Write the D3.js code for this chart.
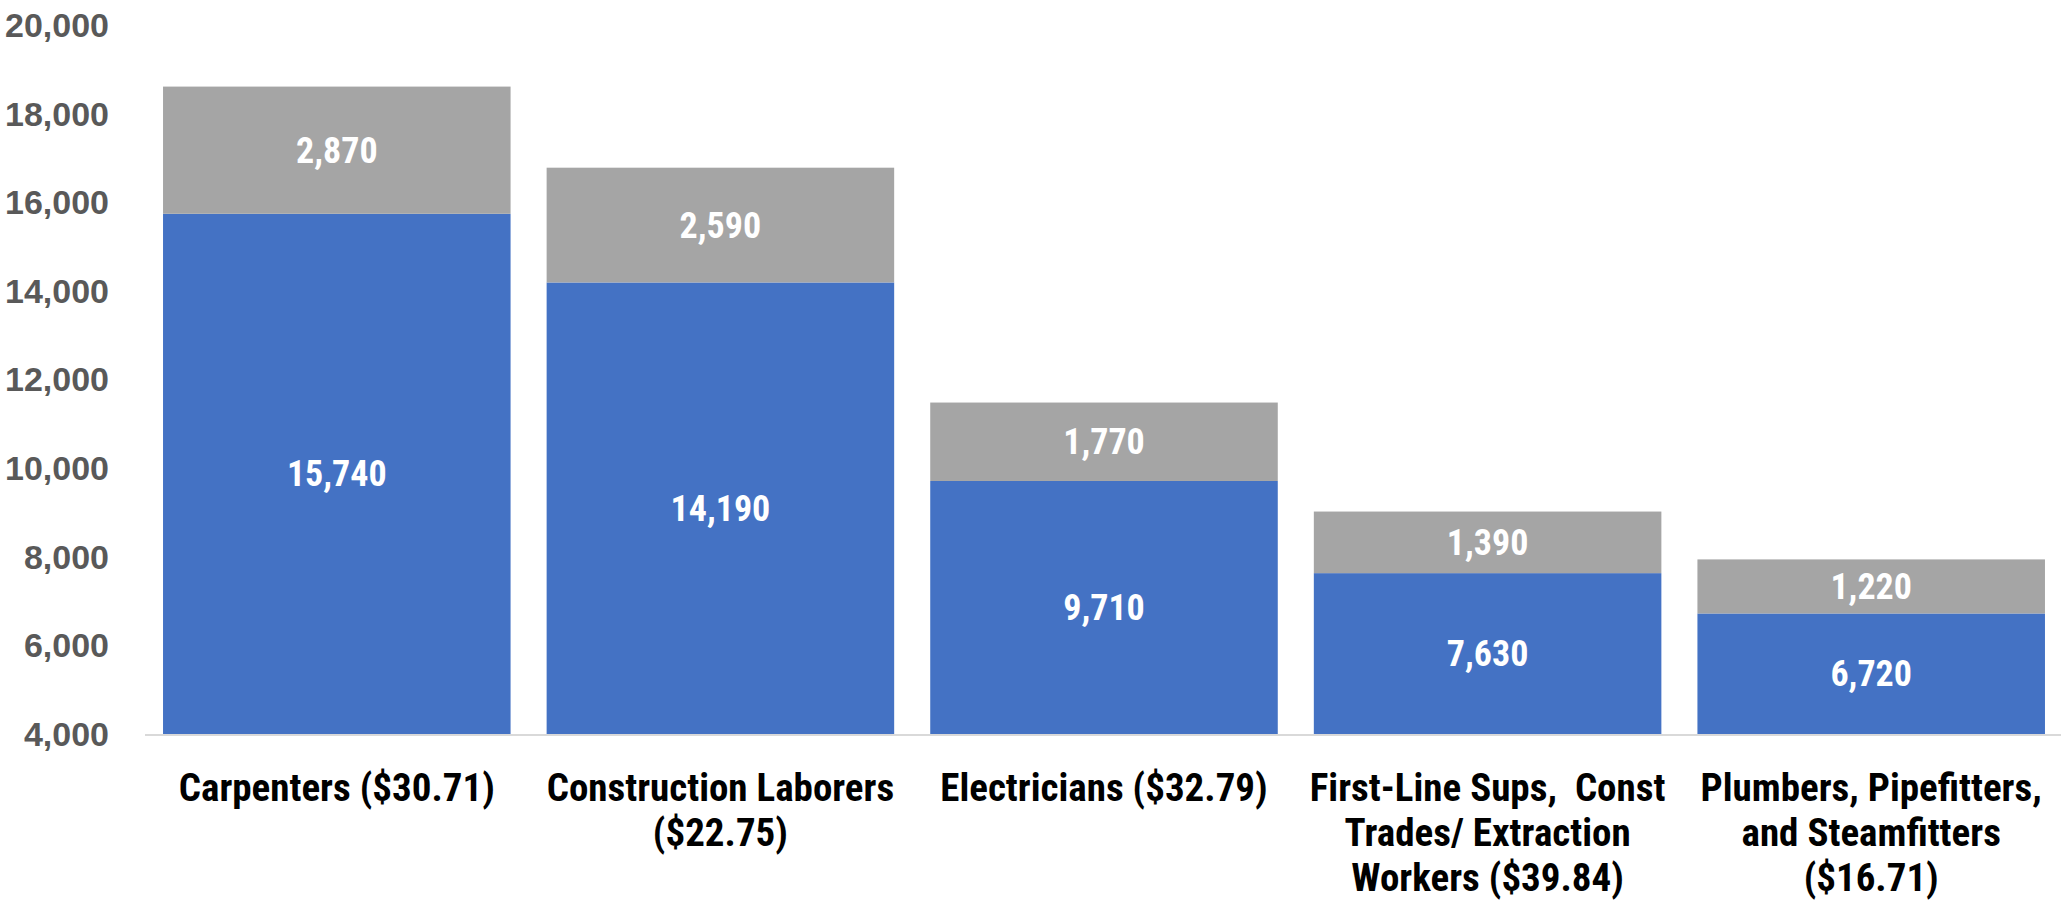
<!DOCTYPE html>
<html>
<head>
<meta charset="utf-8">
<script src="https://cdn.jsdelivr.net/npm/d3@7"></script>
<style>
  html, body { margin: 0; padding: 0; background: #fff; }
  svg { display: block; }
</style>
</head>
<body>
<svg id="chart"></svg>
<script>
// ---- Data ----
const categories = [
  'Carpenters ($30.71)',
  'Construction Laborers ($22.75)',
  'Electricians ($32.79)',
  'First-Line Sups, Const Trades/ Extraction Workers ($39.84)',
  'Plumbers, Pipefitters, and Steamfitters ($16.71)'
];
// label lines as they wrap in the original
const categoryLines = [
  ['Carpenters ($30.71)'],
  ['Construction Laborers', '($22.75)'],
  ['Electricians ($32.79)'],
  ['First-Line Sups,  Const', 'Trades/ Extraction', 'Workers ($39.84)'],
  ['Plumbers, Pipefitters,', 'and Steamfitters', '($16.71)']
];
const baseValues = [15740, 14190, 9710, 7630, 6720];
const extraValues = [2870, 2590, 1770, 1390, 1220];
const yTicks = [4000, 6000, 8000, 10000, 12000, 14000, 16000, 18000, 20000];

const width = 2061;
const height = 904;
const BLUE = '#4472C4';
const GREY = '#A5A5A5';
const NARROW = '"Liberation Sans Narrow", "Arial Narrow", "Roboto Condensed", sans-serif';

const svg = d3.select('#chart').attr('width', width).attr('height', height);

const x = d3.scaleBand()
  .domain(categories)
  .range([145, 2063])
  .paddingInner(0.094)
  .paddingOuter(0.047);

const y = d3.scaleLinear()
  .domain([4000, 20000])
  .range([734, 25]);

// ---- Y axis labels ----
svg.append('g')
  .selectAll('text')
  .data(yTicks)
  .join('text')
  .attr('x', 109)
  .attr('y', d => y(d))
  .attr('dy', '0.35em')
  .attr('text-anchor', 'end')
  .attr('fill', '#595959')
  .style('font-family', '"Liberation Sans", Arial, sans-serif')
  .style('font-weight', 'bold')
  .style('font-size', '34px')
  .text(d => d3.format(',')(d));

// ---- Bars ----
const rows = categories.map((c, i) => ({ cat: c, base: baseValues[i], extra: extraValues[i] }));

const bars = svg.append('g');
bars.selectAll('rect.base')
  .data(rows)
  .join('rect')
  .attr('class', 'base')
  .attr('x', d => x(d.cat))
  .attr('width', x.bandwidth())
  .attr('y', d => y(d.base))
  .attr('height', d => y(4000) - y(d.base))
  .attr('fill', BLUE);

bars.selectAll('rect.extra')
  .data(rows)
  .join('rect')
  .attr('class', 'extra')
  .attr('x', d => x(d.cat))
  .attr('width', x.bandwidth())
  .attr('y', d => y(d.base + d.extra))
  .attr('height', d => y(d.base) - y(d.base + d.extra))
  .attr('fill', GREY);

// ---- Baseline ----
svg.append('line')
  .attr('x1', 145).attr('x2', 2061)
  .attr('y1', y(4000) + 1).attr('y2', y(4000) + 1)
  .attr('stroke', '#d9d9d9')
  .attr('stroke-width', 2);

// ---- Value labels ----
const labels = svg.append('g')
  .attr('fill', '#fff')
  .style('font-family', NARROW)
  .style('font-weight', 'bold')
  .style('font-size', '36px')
  .attr('text-anchor', 'middle');

labels.selectAll('text.base')
  .data(rows)
  .join('text')
  .attr('class', 'base')
  .attr('x', d => x(d.cat) + x.bandwidth() / 2)
  .attr('y', d => (y(4000) + y(d.base)) / 2)
  .attr('dy', '0.35em')
  .text(d => d3.format(',')(d.base));

labels.selectAll('text.extra')
  .data(rows)
  .join('text')
  .attr('class', 'extra')
  .attr('x', d => x(d.cat) + x.bandwidth() / 2)
  .attr('y', d => (y(d.base) + y(d.base + d.extra)) / 2)
  .attr('dy', '0.35em')
  .text(d => d3.format(',')(d.extra));

// ---- Category labels ----
const cats = svg.append('g')
  .attr('fill', '#000')
  .style('font-family', NARROW)
  .style('font-weight', 'bold')
  .style('font-size', '39px')
  .attr('text-anchor', 'middle');

categories.forEach((c, i) => {
  const t = cats.append('text')
    .attr('x', x(c) + x.bandwidth() / 2)
    .attr('y', 787)
    .style('white-space', 'pre');
  categoryLines[i].forEach((line, j) => {
    t.append('tspan')
      .attr('x', x(c) + x.bandwidth() / 2)
      .attr('y', 787 + j * 45)
      .attr('dy', '0.35em')
      .text(line);
  });
});
</script>
</body>
</html>
